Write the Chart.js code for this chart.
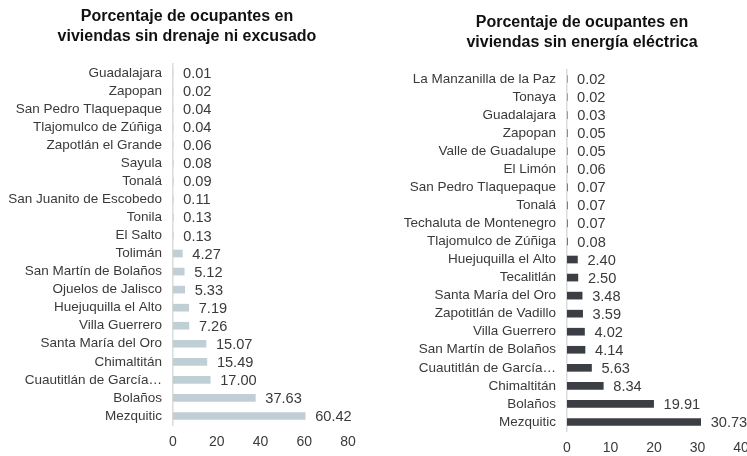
<!DOCTYPE html>
<html>
<head>
<meta charset="utf-8">
<script src="https://cdn.jsdelivr.net/npm/chart.js@4/dist/chart.umd.min.js"></script>
<style>
  html, body { margin: 0; padding: 0; background: #fff; }
  #wrap { position: relative; width: 747px; height: 456px; overflow: hidden; }
  #drenajeChart { position: absolute; left: 0; top: 0; }
  #energiaChart { position: absolute; left: 400px; top: 6px; }
</style>
</head>
<body>
<div id="wrap">
  <canvas id="drenajeChart" width="374" height="456"></canvas>
  <canvas id="energiaChart" width="364" height="456"></canvas>
</div>
<script>
// Datos: sin drenaje ni excusado
const drenajeTitle = ["Porcentaje de ocupantes en", "viviendas sin drenaje ni excusado"];
const drenajeLabels = [
  "Guadalajara", "Zapopan", "San Pedro Tlaquepaque", "Tlajomulco de Zúñiga",
  "Zapotlán el Grande", "Sayula", "Tonalá", "San Juanito de Escobedo", "Tonila",
  "El Salto", "Tolimán", "San Martín de Bolaños", "Ojuelos de Jalisco",
  "Huejuquilla el Alto", "Villa Guerrero", "Santa María del Oro", "Chimaltitán",
  "Cuautitlán de García…", "Bolaños", "Mezquitic"
];
const drenajeValues = [0.01, 0.02, 0.04, 0.04, 0.06, 0.08, 0.09, 0.11, 0.13, 0.13,
  4.27, 5.12, 5.33, 7.19, 7.26, 15.07, 15.49, 17.00, 37.63, 60.42];
const drenajeTicks = [0, 20, 40, 60, 80];

// Datos: sin energía eléctrica
const energiaTitle = ["Porcentaje de ocupantes en", "viviendas sin energía eléctrica"];
const energiaLabels = [
  "La Manzanilla de la Paz", "Tonaya", "Guadalajara", "Zapopan", "Valle de Guadalupe",
  "El Limón", "San Pedro Tlaquepaque", "Tonalá", "Techaluta de Montenegro",
  "Tlajomulco de Zúñiga", "Huejuquilla el Alto", "Tecalitlán", "Santa María del Oro",
  "Zapotitlán de Vadillo", "Villa Guerrero", "San Martín de Bolaños",
  "Cuautitlán de García…", "Chimaltitán", "Bolaños", "Mezquitic"
];
const energiaValues = [0.02, 0.02, 0.03, 0.05, 0.05, 0.06, 0.07, 0.07, 0.07, 0.08,
  2.40, 2.50, 3.48, 3.59, 4.02, 4.14, 5.63, 8.34, 19.91, 30.73];
const energiaTicks = [0, 10, 20, 30, 40];

const FONT = "'Liberation Sans', Arial, sans-serif";
const TEXT = "#3a3a3a";

// etiquetas de valor al final de cada barra
const valueLabels = {
  id: "valueLabels",
  afterLayout(chart) {
    // las etiquetas del eje y se recortan al cuadro de la escala: ampliarlo a la izquierda
    chart.scales.y.left = 0;
  },
  afterDatasetsDraw(chart) {
    const ctx = chart.ctx;
    const meta = chart.getDatasetMeta(0);
    const data = chart.data.datasets[0].data;
    ctx.save();
    ctx.font = "14.6px " + FONT;
    ctx.fillStyle = TEXT;
    ctx.textAlign = "left";
    ctx.textBaseline = "middle";
    meta.data.forEach((bar, i) => {
      ctx.fillText(data[i].toFixed(2), bar.x + 10, bar.y + 1);
    });
    ctx.restore();
  }
};

function makeChart(canvasId, title, labels, values, ticks, color, yWidth, pad) {
  const ctx = document.getElementById(canvasId).getContext("2d");
  return new Chart(ctx, {
    type: "bar",
    data: {
      labels: labels,
      datasets: [{
        data: values,
        backgroundColor: color,
        barThickness: 7
      }]
    },
    options: {
      indexAxis: "y",
      responsive: false,
      animation: false,
      devicePixelRatio: 1,
      layout: { padding: { left: pad, right: pad, top: 0, bottom: 0 } },
      plugins: {
        legend: { display: false },
        tooltip: { enabled: false },
        title: {
          display: true,
          text: title,
          color: "#111",
          font: { family: FONT, size: 16, weight: "bold", lineHeight: 1.25 },
          padding: { top: 7, bottom: 17 }
        }
      },
      scales: {
        x: {
          min: ticks[0],
          max: ticks[ticks.length - 1],
          grid: { display: false, drawTicks: false },
          border: { display: false },
          afterBuildTicks: (scale) => { scale.ticks = ticks.map(v => ({ value: v })); },
          afterFit: (scale) => { scale.height = 31; },
          ticks: { padding: 9, color: TEXT, font: { family: FONT, size: 14 } }
        },
        y: {
          grid: { display: false, drawTicks: false },
          border: { display: true, color: "#dcdcdc", width: 1.5 },
          afterFit: (scale) => { scale.width = yWidth; },
          ticks: { autoSkip: false, padding: 11, color: TEXT, font: { family: FONT, size: 13.5 } }
        }
      }
    },
    plugins: [valueLabels]
  });
}

makeChart("drenajeChart", drenajeTitle, drenajeLabels, drenajeValues, drenajeTicks, "#c0ced6", 147, 26);
makeChart("energiaChart", energiaTitle, energiaLabels, energiaValues, energiaTicks, "#3b3e42", 144, 23);
</script>
</body>
</html>
